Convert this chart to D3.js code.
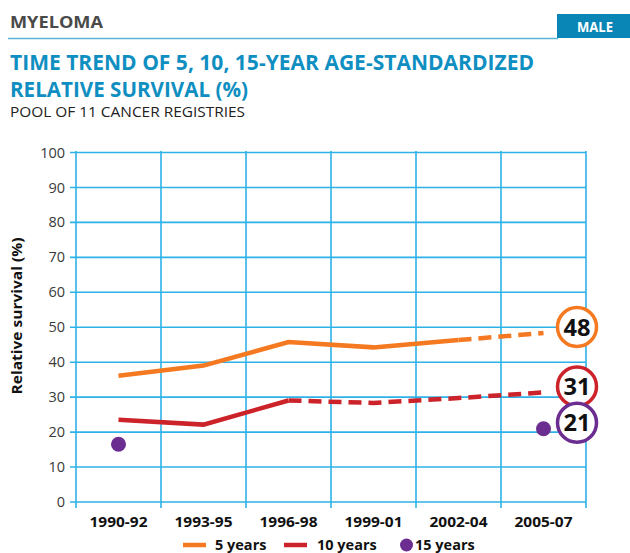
<!DOCTYPE html>
<html><head><meta charset="utf-8">
<script src="https://cdn.jsdelivr.net/npm/d3@7/dist/d3.min.js"></script>
<style>
html,body{margin:0;padding:0;background:#fff;}
svg{display:block;font-family:"Open Sans","DejaVu Sans",sans-serif;}
</style></head>
<body>
<svg id="chart" width="630" height="553"></svg>
<script>
const periods = ["1990-92","1993-95","1996-98","1999-01","2002-04","2005-07"];
const fiveYear = [36.0, 38.9, 45.6, 44.1, 46.2, 48.2];
const tenYear = [23.4, 22.0, 28.9, 28.2, 29.6, 31.2];
const fifteenYear = [16.4, null, null, null, null, 20.8];
const fiveDashFrom = 4;   // dashed (provisional) from this index on
const tenDashFrom = 2;
const endLabels = [48, 31, 21];
const yTicks = [0,10,20,30,40,50,60,70,80,90,100];
const legendLabels = ["5 years","10 years","15 years"];

const colors = {five:"#f47920", ten:"#cc2229", fifteen:"#6c2d91", grid:"#2cb2e8", blue:"#0f8fc1"};

const svg = d3.select("#chart");

function fit(sel, w){ sel.attr("textLength", w).attr("lengthAdjust","spacingAndGlyphs"); return sel; }

// Header
svg.append("text").attr("x",10).attr("y",28).attr("font-size",16).attr("font-weight",700)
  .attr("fill","#4a4a4a").text("MYELOMA").call(fit,93);
svg.append("line").attr("x1",8).attr("x2",558).attr("y1",38.5).attr("y2",38.5)
  .attr("stroke","#5ab4d6").attr("stroke-width",1.6);
svg.append("rect").attr("x",557).attr("y",14).attr("width",73).attr("height",24).attr("fill","#0986b5");
svg.append("text").attr("x",595).attr("y",32).attr("text-anchor","middle").attr("font-size",14)
  .attr("font-weight",700).attr("fill","#fff").text("MALE").call(fit,36);

svg.append("text").attr("x",10).attr("y",70).attr("font-size",21).attr("font-weight",700)
  .attr("fill",colors.blue).text("TIME TREND OF 5, 10, 15-YEAR AGE-STANDARDIZED").call(fit,524);
svg.append("text").attr("x",10).attr("y",97).attr("font-size",21).attr("font-weight",700)
  .attr("fill",colors.blue).text("RELATIVE SURVIVAL (%)").call(fit,238);
svg.append("text").attr("x",10).attr("y",117).attr("font-size",14)
  .attr("fill","#222").text("POOL OF 11 CANCER REGISTRIES").call(fit,235);

// Scales
const x = d3.scaleBand().domain(periods).range([76,586]).padding(0);
const y = d3.scaleLinear().domain([0,100]).range([501.5,152]);
const cx = d => x(d) + x.bandwidth()/2;

// Vertical gridlines at band edges
const edges = periods.map(p => x(p)).concat([x.range()[1]]);
svg.append("g").selectAll("line").data(edges).join("line")
  .attr("x1",d=>d).attr("x2",d=>d).attr("y1",y(100)-1).attr("y2",508)
  .attr("stroke",colors.grid).attr("stroke-width",1.6);

// Y axis with horizontal gridlines
const yAxis = d3.axisLeft(y).tickValues(yTicks).tickSize(-(x.range()[1]-x.range()[0])).tickSizeOuter(0).tickPadding(11);
const gy = svg.append("g").attr("transform",`translate(${x.range()[0]},0)`).call(yAxis);
gy.select(".domain").remove();
gy.selectAll(".tick line").attr("x1",-6).attr("stroke",colors.grid).attr("stroke-width",1.6);
gy.selectAll(".tick text").attr("font-size",14.5).attr("fill","#3a3a3a")
  .attr("font-family","'Open Sans',sans-serif").attr("dy","0.35em");

// X axis labels
const xAxis = d3.axisBottom(x).tickSize(0).tickPadding(0);
const gx = svg.append("g").attr("transform","translate(0,512)").call(xAxis);
gx.select(".domain").remove();
gx.selectAll(".tick text").attr("font-size",15).attr("font-weight",700).attr("fill","#111")
  .attr("font-family","'Open Sans',sans-serif").attr("dy","0.97em").call(fit,58);

// Y axis title
svg.append("text").attr("transform","translate(22,316) rotate(-90)").attr("text-anchor","middle")
  .attr("font-size",14).attr("font-weight",700).attr("fill","#111").text("Relative survival (%)").call(fit,157);

// Lines
const line = d3.line().x((d)=>cx(d.p)).y(d=>y(d.v));
function drawSeries(vals, dashFrom, color){
  const pts = vals.map((v,i)=>({p:periods[i], v}));
  svg.append("path").attr("d", line(pts.slice(0, dashFrom+1))).attr("fill","none")
    .attr("stroke",color).attr("stroke-width",4.5);
  svg.append("path").attr("d", line(pts.slice(dashFrom))).attr("fill","none")
    .attr("stroke",color).attr("stroke-width",4.5).attr("stroke-dasharray","13,7");
}
drawSeries(fiveYear, fiveDashFrom, colors.five);
drawSeries(tenYear, tenDashFrom, colors.ten);

const dots = fifteenYear.map((v,i)=>({p:periods[i], v})).filter(d=>d.v!=null);
svg.append("g").selectAll("circle").data(dots).join("circle")
  .attr("cx",d=>cx(d.p)).attr("cy",d=>y(d.v)).attr("r",7.5).attr("fill",colors.fifteen);

// End labels
const lastVals = [fiveYear[5], tenYear[5], fifteenYear[5]];
const lastColors = [colors.five, colors.ten, colors.fifteen];
const lg = svg.append("g");
endLabels.forEach((lab,i)=>{
  const cyv = y(lastVals[i]) - 6;
  lg.append("circle").attr("cx",577).attr("cy",cyv).attr("r",19.5).attr("fill","#fff")
    .attr("stroke",lastColors[i]).attr("stroke-width",3.5);
  lg.append("text").attr("x",577).attr("y",cyv+8.5).attr("text-anchor","middle")
    .attr("font-size",24).attr("font-weight",700).attr("fill","#111").text(lab).call(fit,27);
});

// Legend
const leg = svg.append("g");
const ly = 545;
leg.append("line").attr("x1",183).attr("x2",206).attr("y1",ly).attr("y2",ly).attr("stroke",colors.five).attr("stroke-width",4.5);
leg.append("text").attr("x",215).attr("y",ly+4.5).attr("font-size",14.5).attr("font-weight",700).attr("fill","#111").text(legendLabels[0]);
leg.append("line").attr("x1",284).attr("x2",307).attr("y1",ly).attr("y2",ly).attr("stroke",colors.ten).attr("stroke-width",4.5);
leg.append("text").attr("x",317).attr("y",ly+4.5).attr("font-size",14.5).attr("font-weight",700).attr("fill","#111").text(legendLabels[1]);
leg.append("circle").attr("cx",406.5).attr("cy",ly).attr("r",6.5).attr("fill",colors.fifteen);
leg.append("text").attr("x",415).attr("y",ly+4.5).attr("font-size",14.5).attr("font-weight",700).attr("fill","#111").text(legendLabels[2]);
</script>
</body></html>
